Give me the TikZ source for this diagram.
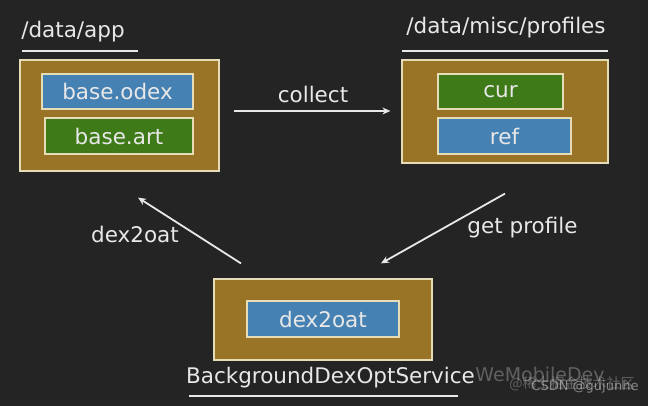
\documentclass[tikz,border=0pt]{standalone}
\usepackage{fontspec}
\setmainfont{DejaVu Sans}
\newfontfamily\cjkfont{Noto Sans CJK SC}
\usetikzlibrary{arrows.meta}
\definecolor{bgc}{HTML}{242424}
\definecolor{olive}{HTML}{9A7426}
\definecolor{bluebox}{HTML}{4681B3}
\definecolor{greenbox}{HTML}{3F7A18}
\definecolor{edgec}{HTML}{E6DDB8}
\definecolor{txt}{HTML}{E8E8E8}
\tikzset{
  outerbox/.style={draw=edgec, line width=1.2pt, fill=olive, inner sep=0pt},
  bluefile/.style={draw=edgec, line width=1.2pt, fill=bluebox, inner sep=0pt, text=txt, font=\fontsize{21.5}{24}\selectfont},
  greenfile/.style={draw=edgec, line width=1.2pt, fill=greenbox, inner sep=0pt, text=txt, font=\fontsize{21.5}{24}\selectfont},
  lbl/.style={text=txt, inner sep=0pt, font=\fontsize{21.5}{24}\selectfont},
  uline/.style={draw=txt, line width=1.8pt},
  arr/.style={draw=txt, line width=1.8pt, -{Stealth[length=8pt,width=7pt]}},
  wm/.style={text=white, opacity=0.28, inner sep=0pt}
}
\begin{document}
\begin{tikzpicture}[x=1pt,y=-1pt]
\fill[bgc] (0,0) rectangle (648,406);
\useasboundingbox (0,0) rectangle (648,406);

% left group
\node[lbl] (applbl) at (73,32) {/data/app};
\coordinate (appu1) at (22,51);
\coordinate (appu2) at (138,51);
\draw[uline] (appu1) -- (appu2);
\node[outerbox, minimum width=199pt, minimum height=111pt] (appbox) at (119.5,115.5) {};
\node[bluefile, minimum width=151pt, minimum height=35pt] (odex) at (117.5,91.5) {base.odex};
\node[greenfile, minimum width=148pt, minimum height=36pt] (art) at (119,136) {base.art};

% right group
\node[lbl] (proflbl) at (506,28) {/data/misc/profiles};
\coordinate (profu1) at (402,51);
\coordinate (profu2) at (608,51);
\draw[uline] (profu1) -- (profu2);
\node[outerbox, minimum width=206pt, minimum height=103pt] (profbox) at (505,111.5) {};
\node[greenfile, minimum width=125pt, minimum height=35pt] (cur) at (500.5,91.5) {cur};
\node[bluefile, minimum width=133pt, minimum height=36pt] (ref) at (504.5,136) {ref};

% bottom group
\node[outerbox, minimum width=218pt, minimum height=81pt] (svc) at (323,319.5) {};
\node[bluefile, minimum width=152pt, minimum height=36pt] (d2o) at (323,319) {dex2oat};
\node[lbl] (svclbl) at (330.5,378) {BackgroundDexOptService};
\coordinate (svcu1) at (189,396);
\coordinate (svcu2) at (458,396);
\draw[uline] (svcu1) -- (svcu2);

% connectors
\draw[arr] ([xshift=14pt,yshift=4.5pt]appbox.east) -- ([xshift=-11pt,yshift=0.5pt]profbox.west);
\node[lbl] (collectlbl) at (313,94) {collect};
\draw[arr] ([xshift=-82pt,yshift=15pt]svc.north) -- ([xshift=18.5pt,yshift=-26pt]appbox.south);
\node[lbl] (dexlbl) at (135,234) {dex2oat};
\draw[arr] ([yshift=-30pt]profbox.south) -- ([xshift=58pt,yshift=15pt]svc.north);
\node[lbl] (getlbl) at (522.5,228) {get profile};

% watermarks
\node[wm, font=\fontsize{19}{20}\selectfont] (wm1) at (540,374) {WeMobileDev};
\node[wm, font=\cjkfont\fontsize{14}{16}\selectfont] (wm2) at (572,384) {@稀土掘金技术社区};
\node[wm, opacity=0.45, font=\fontsize{13}{15}\selectfont] (wm3) at (585,387) {CSDN @gujunhe};
\end{tikzpicture}
\end{document}
